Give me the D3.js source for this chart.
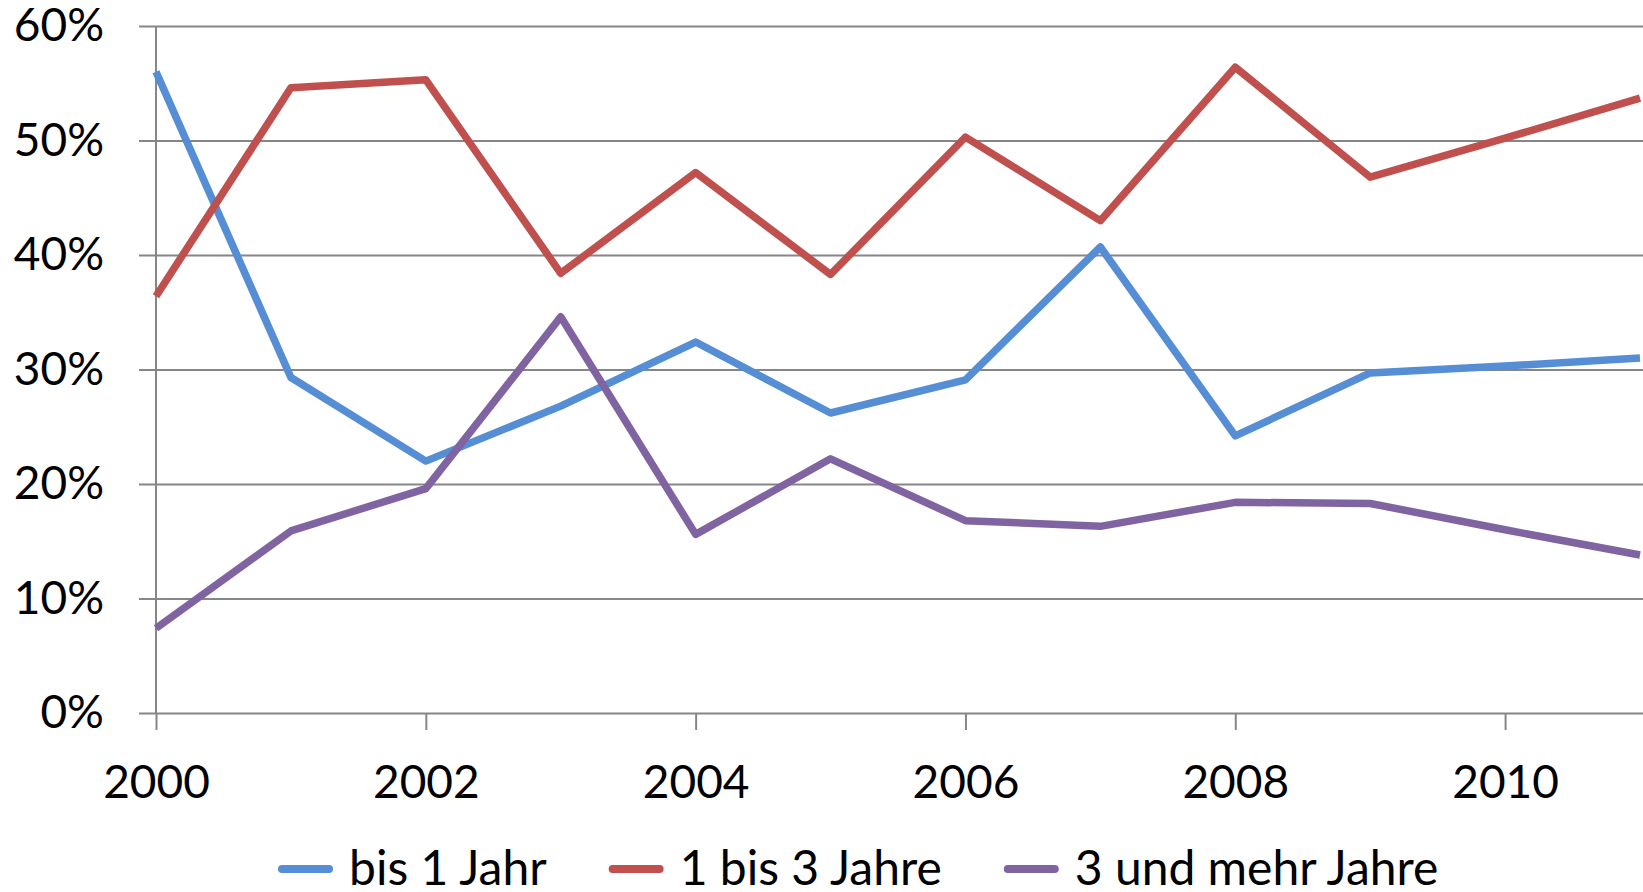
<!DOCTYPE html>
<html>
<head>
<meta charset="utf-8">
<script src="https://cdn.jsdelivr.net/npm/d3@7.9.0/dist/d3.min.js"></script>
<style>
  html, body { margin: 0; padding: 0; background: #fff; }
  svg { display: block; font-family: Lato, "Open Sans", sans-serif; }
</style>
</head>
<body>
<svg width="1643" height="892"></svg>
<script>
// data
const years = [2000, 2001, 2002, 2003, 2004, 2005, 2006, 2007, 2008, 2009, 2010, 2011];
const bis1 = [0.560, 0.293, 0.220, 0.268, 0.324, 0.262, 0.291, 0.407, 0.242, 0.297, 0.303, 0.310];
const bis3 = [0.364, 0.546, 0.553, 0.384, 0.472, 0.383, 0.503, 0.430, 0.564, 0.468, 0.502, 0.537];
const mehr3 = [0.074, 0.159, 0.196, 0.346, 0.156, 0.222, 0.168, 0.163, 0.184, 0.183, 0.160, 0.138];
const seriesNames = ["bis 1 Jahr", "1 bis 3 Jahre", "3 und mehr Jahre"];
const colors = ["#558ED5", "#C0504D", "#8064A2"];
const yTicks = [0, 0.1, 0.2, 0.3, 0.4, 0.5, 0.6];
const xTicks = [2000, 2002, 2004, 2006, 2008, 2010];

const series = [bis1, bis3, mehr3].map((vals, i) => ({
  name: seriesNames[i],
  color: colors[i],
  values: years.map((yr, j) => ({ year: yr, v: vals[j] }))
}));

const svg = d3.select("svg");
const width = +svg.attr("width");
const margin = { top: 26, left: 156, bottom: 713, right: 1640 };

const x = d3.scaleLinear().domain([2000, 2011]).range([margin.left, margin.right]);
const y = d3.scaleLinear().domain([0, 0.6]).range([margin.bottom, margin.top]);

// gridlines + y labels
const gy = svg.append("g")
  .attr("transform", "translate(139,0)")
  .call(d3.axisLeft(y).tickValues(yTicks).tickFormat(d3.format(".0%"))
    .tickSizeInner(-(width - 139)).tickSizeOuter(0).tickPadding(35));
gy.select(".domain").remove();
gy.selectAll(".tick line").attr("stroke", "#868686").attr("stroke-width", 2);
gy.selectAll(".tick text").attr("font-size", 46).attr("fill", "#000")
  .attr("font-family", "Lato, 'Open Sans', sans-serif");

// vertical axis line
svg.append("line")
  .attr("x1", margin.left).attr("x2", margin.left)
  .attr("y1", margin.top).attr("y2", margin.bottom)
  .attr("stroke", "#868686").attr("stroke-width", 2);

// x axis ticks + labels
const gx = svg.append("g")
  .attr("transform", `translate(0,${margin.bottom})`)
  .call(d3.axisBottom(x).tickValues(xTicks).tickFormat(d3.format("d"))
    .tickSizeInner(17).tickSizeOuter(0).tickPadding(35));
gx.select(".domain").remove();
gx.selectAll(".tick line").attr("stroke", "#868686").attr("stroke-width", 2);
gx.selectAll(".tick text").attr("font-size", 46).attr("fill", "#000")
  .attr("font-family", "Lato, 'Open Sans', sans-serif");

// lines
const line = d3.line().x(d => x(d.year)).y(d => y(d.v));
svg.append("g").selectAll("path")
  .data(series)
  .join("path")
  .attr("fill", "none")
  .attr("stroke", d => d.color)
  .attr("stroke-width", 7.5)
  .attr("stroke-linejoin", "round")
  .attr("d", d => line(d.values));

// legend
const legend = svg.append("g").attr("transform", "translate(0,869)");
let lx = 278;
series.forEach(s => {
  legend.append("line")
    .attr("x1", lx + 4).attr("x2", lx + 51)
    .attr("stroke", s.color).attr("stroke-width", 8).attr("stroke-linecap", "round");
  const t = legend.append("text")
    .attr("x", lx + 71).attr("y", 16)
    .attr("font-size", 48).attr("fill", "#000")
    .text(s.name);
  lx += 71 + t.node().getComputedTextLength() + 62;
});
</script>
</body>
</html>
